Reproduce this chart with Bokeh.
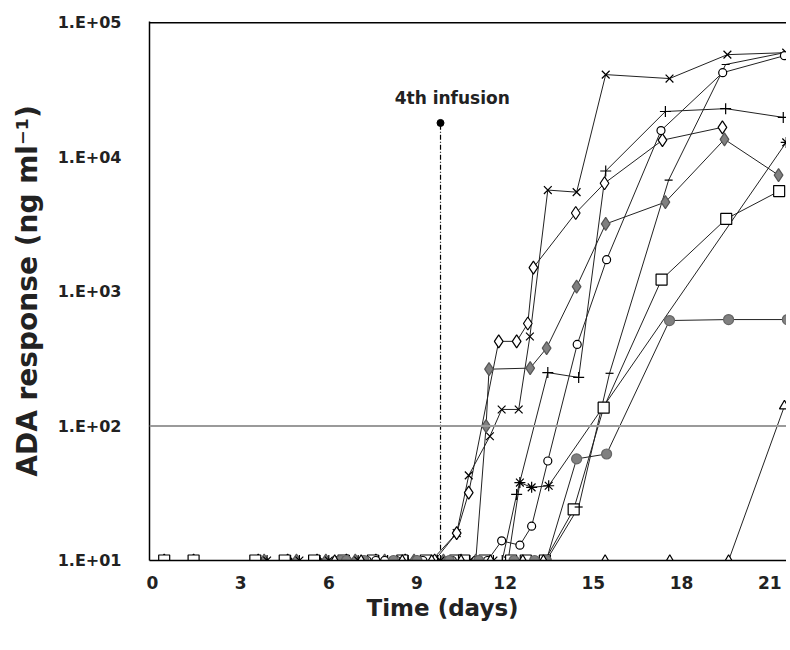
from bokeh.plotting import figure
from bokeh.models import FixedTicker, Span, Range1d, Title
from bokeh.core.properties import value
from bokeh.embed import file_html
from bokeh.resources import INLINE

# ---- data (days, ADA ng/ml) ----
cross_x = [3.7, 4.8, 5.8, 6.8, 9.5, 10.35, 10.76, 11.48, 11.88, 12.46, 12.84, 13.45, 14.43, 15.42, 17.59, 19.56, 21.56]
cross_y = [10, 10, 10, 10, 10, 16, 43, 84, 133, 133, 464, 5700, 5500, 41200, 38500, 58000, 60000]

odiam_x = [0.4, 1.4, 3.6, 4.6, 5.6, 6.6, 7.6, 8.6, 9.6, 10.35, 10.76, 11.78, 12.39, 12.77, 12.96, 14.4, 15.38, 17.35, 19.39]
odiam_y = [10, 10, 10, 10, 10, 10, 10, 10, 10, 16, 32, 427, 427, 580, 1510, 3850, 6410, 13400, 16700]

fdiam_x = [3.8, 4.9, 5.9, 6.9, 7.9, 8.9, 9.9, 10.5, 11.0, 11.35, 11.45, 12.85, 13.41, 14.43, 15.42, 17.45, 19.46, 21.3]
fdiam_y = [10, 10, 10, 10, 10, 10, 10, 10, 10, 100, 265, 270, 380, 1090, 3190, 4640, 13600, 7360]

plus_x = [3.6, 4.7, 5.7, 6.7, 7.7, 8.7, 9.7, 10.6, 11.2, 11.9, 12.39, 13.45, 14.5, 15.42, 17.45, 19.5, 21.46]
plus_y = [10, 10, 10, 10, 10, 10, 10, 10, 10, 10, 31, 250, 230, 7900, 21900, 23000, 19800]

aster_x = [3.9, 5.0, 6.0, 7.0, 8.0, 9.0, 9.8, 10.8, 11.6, 12.1, 12.5, 12.9, 13.48, 21.56]
aster_y = [10, 10, 10, 10, 10, 10, 10, 10, 10, 10, 38, 35, 36, 12900]

osq_x = [0.4, 1.4, 3.5, 4.5, 5.5, 6.5, 7.5, 8.5, 9.3, 10.3, 10.6, 11.3, 12.2, 12.7, 13.35, 14.33, 15.35, 17.32, 19.52, 21.32]
osq_y = [10, 10, 10, 10, 10, 10, 10, 10, 10, 10, 10, 10, 10, 10, 10, 24, 137, 1230, 3480, 5600]

dash_x = [4.0, 5.1, 6.1, 7.1, 8.1, 9.1, 10.0, 11.1, 12.0, 12.8, 13.4, 14.5, 15.55, 17.56, 19.5, 21.5]
dash_y = [10, 10, 10, 10, 10, 10, 10, 10, 10, 10, 10, 25, 247, 6760, 49000, 60000]

ocirc_x = [6.3, 7.3, 7.6, 7.9, 8.3, 9.2, 10.2, 11.0, 11.4, 11.88, 12.5, 12.9, 13.45, 14.45, 15.45, 17.3, 19.4, 21.5]
ocirc_y = [10, 10, 10, 10, 10, 10, 10, 10, 10, 14, 13, 18, 55, 405, 1730, 15800, 42600, 57000]

fcirc_x = [6.4, 6.6, 7.2, 8.2, 9.0, 10.1, 11.1, 12.3, 13.0, 13.4, 14.43, 15.45, 17.59, 19.6, 21.6]
fcirc_y = [10, 10, 10, 10, 10, 10, 10, 10, 10, 10, 57, 62, 610, 620, 620]

tri_x = [6.2, 7.1, 8.5, 9.5, 10.5, 11.5, 12.6, 13.3, 15.4, 17.6, 19.6, 21.5]
tri_y = [10, 10, 10, 10, 10, 10, 10, 10, 10, 10, 10, 141]

x_ticks = [0, 3, 6, 9, 12, 15, 18, 21]
y_ticks = [10, 100, 1000, 10000, 100000]
y_tick_labels = ["1.E+01", "1.E+02", "1.E+03", "1.E+04", "1.E+05"]
x_title = "Time (days)"
y_title = "ADA response (ng ml\u207b\u00b9)"
threshold = 100
infusion_day = 9.8
infusion_top = 18000
infusion_bottom = 12
infusion_label = "4th infusion"
infusion_label_x = 10.2
infusion_label_y = 27500

FONT = "DejaVu Sans"

p = figure(width=786, height=632, output_backend="svg", toolbar_location=None,
           y_axis_type="log", x_range=Range1d(-0.1, 21.57), y_range=Range1d(10, 10 ** 5.01),
           min_border_left=149, min_border_top=21, min_border_right=0, min_border_bottom=72)
p.outline_line_color = None
p.grid.visible = False
p.background_fill_color = "white"

# axes
p.xaxis.ticker = FixedTicker(ticks=x_ticks)
p.yaxis.ticker = FixedTicker(ticks=y_ticks)
p.yaxis.major_label_overrides = {t: l for t, l in zip(y_ticks, y_tick_labels)}
for ax in (p.xaxis[0], p.yaxis[0]):
    ax.axis_line_color = "black"
    ax.axis_line_width = 1.5
    ax.major_tick_line_color = None
    ax.minor_tick_line_color = None
    ax.major_label_text_font = FONT
    ax.major_label_text_font_style = "bold"
    ax.major_label_text_font_size = "17px"
    ax.major_label_text_color = "#222222"
    ax.axis_label_text_font = FONT
    ax.axis_label_text_font_style = "bold"
    ax.axis_label_text_color = "#222222"
p.yaxis.axis_label = y_title
p.yaxis.axis_label_text_font_size = "28px"
p.yaxis.major_label_text_font_size = "16px"
p.xaxis.major_label_standoff = 9
p.yaxis.major_label_standoff = 22
p.yaxis.axis_label_standoff = 11

# x-axis title (a below-title so it can sit left of centre, as in the original)
p.add_layout(Title(text=x_title, align="left", offset=217, standoff=2,
                   text_font=FONT, text_font_style="bold", text_font_size="23px",
                   text_color="#222222"), "below")

# top border and threshold line
p.add_layout(Span(location=100000, dimension="width", line_color="black", line_width=1.5))
p.add_layout(Span(location=threshold, dimension="width", line_color="#9a9a9a", line_width=2))

# infusion marker
p.line([infusion_day, infusion_day], [infusion_bottom, infusion_top], line_color="black",
       line_width=1.2, line_dash="5 2 1 2")
p.scatter([infusion_day], [infusion_top], marker="circle", size=7, color="black")
p.text([infusion_label_x], [infusion_label_y], text=[infusion_label], text_font=value(FONT),
       text_font_style="bold", text_font_size="17px", text_align="center",
       text_baseline="middle", text_color="#222222")

series = [
    (cross_x, cross_y, "x", 11, "white", "black"),
    (odiam_x, odiam_y, "diamond", 13, "white", "black"),
    (fdiam_x, fdiam_y, "diamond", 13, "#808080", "#555555"),
    (plus_x, plus_y, "cross", 11, "white", "black"),
    (aster_x, aster_y, "asterisk", 11, "white", "black"),
    (osq_x, osq_y, "square", 11, "white", "black"),
    (dash_x, dash_y, "dash", 8, "white", "black"),
    (ocirc_x, ocirc_y, "circle", 8, "white", "black"),
    (fcirc_x, fcirc_y, "circle", 10, "#808080", "#666666"),
    (tri_x, tri_y, "triangle", 10, "white", "black"),
]
for xs, ys, *_ in series:
    p.line(xs, ys, line_color="#222222", line_width=1)
for xs, ys, mk, sz, fc, lc in series:
    p.scatter(xs, ys, marker=mk, size=sz, fill_color=fc, line_color=lc, line_width=1.2)

open("out.html", "w").write(file_html(p, INLINE))
